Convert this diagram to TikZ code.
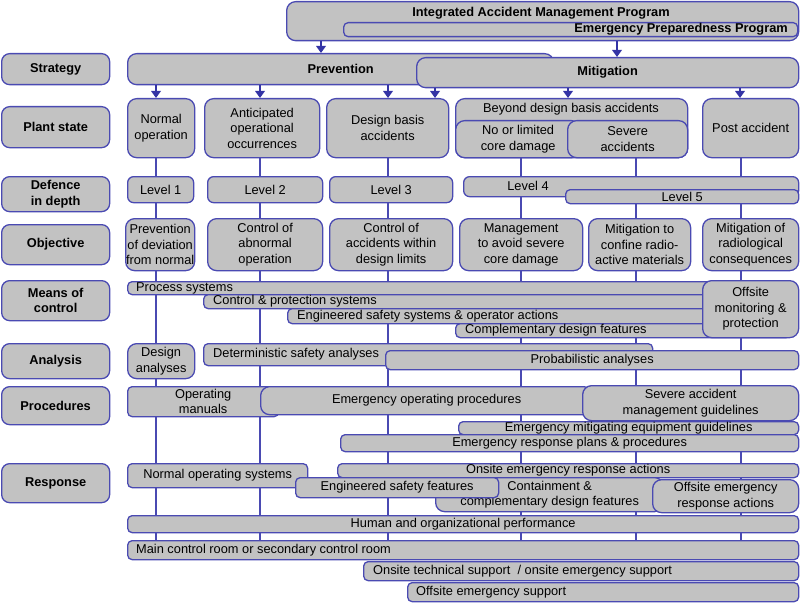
\documentclass[tikz,border=0pt]{standalone}
\usepackage{fontspec}
\setmainfont{Liberation Sans}
\usetikzlibrary{arrows.meta,backgrounds}
\definecolor{bfill}{RGB}{194,194,194}
\definecolor{bline}{RGB}{74,74,178}
\definecolor{barr}{RGB}{52,52,165}
\newcommand{\mybox}[7][]{\node[box,anchor=north west,minimum width={(#5-#3)*1pt},minimum height={(#6-#4)*1pt},#1] (#2) at (#3,#4) {#7};}
\begin{document}
\begin{tikzpicture}[x=1pt,y=-1pt,
  font=\fontsize{12.8}{15.5}\selectfont,
  box/.style={draw=bline,fill=bfill,line width=1.3pt,rounded corners=4.5pt,inner sep=0pt,align=center},
  bold/.style={font=\fontsize{12.8}{15.5}\selectfont\bfseries},
  lab/.style={bold,rounded corners=8pt},
  big/.style={rounded corners=9pt},
  mid/.style={rounded corners=6pt},
  txt/.style={inner sep=0pt,align=center},
  arr/.style={draw=barr,line width=2.6pt,-{Triangle[width=9.5pt,length=7pt]}},
  vl/.style={draw=bline,line width=1.3pt}]
\useasboundingbox (0,0) rectangle (800,607);
% coordinates for arrows and lines
\coordinate (a1) at (321,0); \coordinate (a2) at (617,0);
\coordinate (p1) at (156,0); \coordinate (p2) at (260,0); \coordinate (p3) at (388,0);
\coordinate (m1) at (435,0); \coordinate (m2) at (568,0); \coordinate (m3) at (740,0);
\coordinate (c1) at (156,0); \coordinate (c2) at (260,0); \coordinate (c3) at (388,0);
\coordinate (c4) at (521,0); \coordinate (c5) at (636,0); \coordinate (c6) at (741,0);
% programs
\mybox[big]{prog}{286}{1}{798}{40}{}
\mybox{epp}{343}{22}{797}{36}{}
\node[txt,bold] (iamp) at (541,13) {Integrated Accident Management Program};
\node[txt,bold,anchor=east] (eppt) at (788,29) {Emergency Preparedness Program};
% row labels
\mybox[lab]{lstr}{1}{53}{109}{84}{Strategy}
\mybox[lab]{lps}{1}{106}{109}{147}{Plant state}
\mybox[lab]{ldd}{1}{176}{109}{211}{Defence\\in depth}
\mybox[lab]{lobj}{1}{224}{109}{264}{Objective}
\mybox[lab]{lmc}{1}{280}{109}{320}{Means of\\control}
\mybox[lab]{lan}{1}{343}{109}{378}{Analysis}
\mybox[lab]{lpr}{1}{386}{109}{424}{Procedures}
\mybox[lab]{lre}{1}{463}{109}{502}{Response}
% strategy
\mybox[bold,big]{prev}{127}{53}{553}{84}{Prevention}
\mybox[bold,big]{mit}{416}{57}{798}{87}{Mitigation}
% plant state
\mybox[big]{norm}{127}{98}{194}{157}{Normal\\operation}
\mybox[big]{aoo}{204}{98}{319}{157}{Anticipated\\operational\\occurrences}
\mybox[big]{dba}{326}{98}{448}{157}{Design basis\\accidents}
\mybox[big]{bdba}{455}{98}{687}{157}{}
\node[txt] (bdbat) at (571,109) {Beyond design basis accidents};
\mybox[big]{nolim}{455}{120}{580}{157}{No or limited\\core damage}
\mybox[big]{sev}{567}{120}{687}{157}{Severe\\accidents}
\mybox[big]{post}{702}{98}{798}{157}{Post accident}
% defence in depth
\mybox[mid]{lv1}{127}{176}{193}{202}{Level 1}
\mybox[mid]{lv2}{207}{176}{322}{202}{Level 2}
\mybox[mid]{lv3}{329}{176}{452}{202}{Level 3}
\mybox[mid]{lv4}{463}{176}{798}{196}{}
\node[txt] (lv4t) at (528,186) {Level 4};
\mybox{lv5}{565}{189}{798}{203}{Level 5}
% objectives
\mybox[big]{ob1}{125}{218}{194}{270}{Prevention\\of deviation\\from normal}
\mybox[big]{ob2}{207}{218}{322}{270}{Control of\\abnormal\\operation}
\mybox[big]{ob3}{329}{218}{452}{270}{Control of\\accidents within\\design limits}
\mybox[big]{ob4}{459}{218}{582}{270}{Management\\to avoid severe\\core damage}
\mybox[big]{ob5}{588}{218}{690}{270}{Mitigation to\\confine radio-\\active materials}
\mybox[big]{ob6}{702}{218}{798}{270}{Mitigation of\\radiological\\consequences}
% means of control
\mybox{ps}{127}{281}{790}{294}{}
\node[txt,anchor=west] (pst) at ([xshift=9pt]ps.west) {Process systems};
\mybox{cps}{203}{294}{790}{308}{}
\node[txt,anchor=west] (cpst) at ([xshift=10pt]cps.west) {Control \& protection systems};
\mybox{ess}{287}{308}{790}{323}{}
\node[txt,anchor=west] (esst) at ([xshift=10pt]ess.west) {Engineered safety systems \& operator actions};
\mybox{cdf}{455}{323}{790}{337}{}
\node[txt,anchor=west] (cdft) at ([xshift=10pt]cdf.west) {Complementary design features};
\mybox[big]{ofm}{702}{280}{798}{337}{Offsite\\monitoring \&\\protection}
% analysis
\mybox[big]{da}{127}{343}{194}{378}{Design\\analyses}
\mybox{dsa}{203}{343}{652}{365}{}
\node[txt,anchor=west] (dsat) at ([xshift=10pt]dsa.west) {Deterministic safety analyses};
\mybox{pa}{385}{350}{798}{369}{Probabilistic analyses}
% procedures
\mybox{om}{127}{386}{278}{416}{Operating\\manuals}
\mybox[big]{eop}{260}{386}{592}{414}{Emergency operating procedures}
\mybox[big]{samg}{582}{385}{798}{420}{Severe accident\\management guidelines}
\mybox{emeg}{458}{421}{798}{434}{Emergency mitigating equipment guidelines}
\mybox{erp}{340}{434}{798}{451}{Emergency response plans \& procedures}
% response
\mybox{oera}{337}{463}{798}{477}{Onsite emergency response actions}
\mybox{nos}{127}{463}{307}{487}{Normal operating systems}
\mybox[big]{cont}{435}{477}{663}{511}{Containment \&\\complementary design features}
\mybox[big]{oeresp}{652}{479}{798}{512}{Offsite emergency\\response actions}
\mybox{esf}{295}{477}{498}{497}{Engineered safety features}
\mybox{hop}{127}{515}{798}{532}{Human and organizational performance}
\mybox{mcr}{127}{540}{798}{559}{}
\node[txt,anchor=west] (mcrt) at ([xshift=9pt]mcr.west) {Main control room or secondary control room};
\mybox{ots}{363}{561}{798}{580}{}
\node[txt,anchor=west] (otst) at ([xshift=10pt]ots.west) {Onsite technical support \ / onsite emergency support};
\mybox{oes}{407}{582}{798}{601}{}
\node[txt,anchor=west] (oest) at ([xshift=9pt]oes.west) {Offsite emergency support};
% arrows
\draw[arr] (a1 |- prog.south) -- (a1 |- prev.north);
\draw[arr] (a2 |- prog.south) -- (a2 |- mit.north);
\draw[arr] (p1 |- prev.south) -- (p1 |- norm.north);
\draw[arr] (p2 |- prev.south) -- (p2 |- aoo.north);
\draw[arr] (p3 |- prev.south) -- (p3 |- dba.north);
\draw[arr] (m1 |- mit.south) -- (m1 |- dba.north);
\draw[arr] (m2 |- mit.south) -- (m2 |- bdba.north);
\draw[arr] (m3 |- mit.south) -- (m3 |- post.north);
% vertical lines behind everything
\begin{scope}[on background layer]
\draw[vl] (c1 |- norm.south) -- (c1 |- mcr.north);
\draw[vl] (c2 |- aoo.south) -- (c2 |- mcr.north);
\draw[vl] (c3 |- dba.south) -- (c3 |- mcr.north);
\draw[vl] (c4 |- nolim.south) -- (c4 |- mcr.north);
\draw[vl] (c5 |- sev.south) -- (c5 |- mcr.north);
\draw[vl] (c6 |- post.south) -- (c6 |- mcr.north);
\end{scope}
\end{tikzpicture}
\end{document}
